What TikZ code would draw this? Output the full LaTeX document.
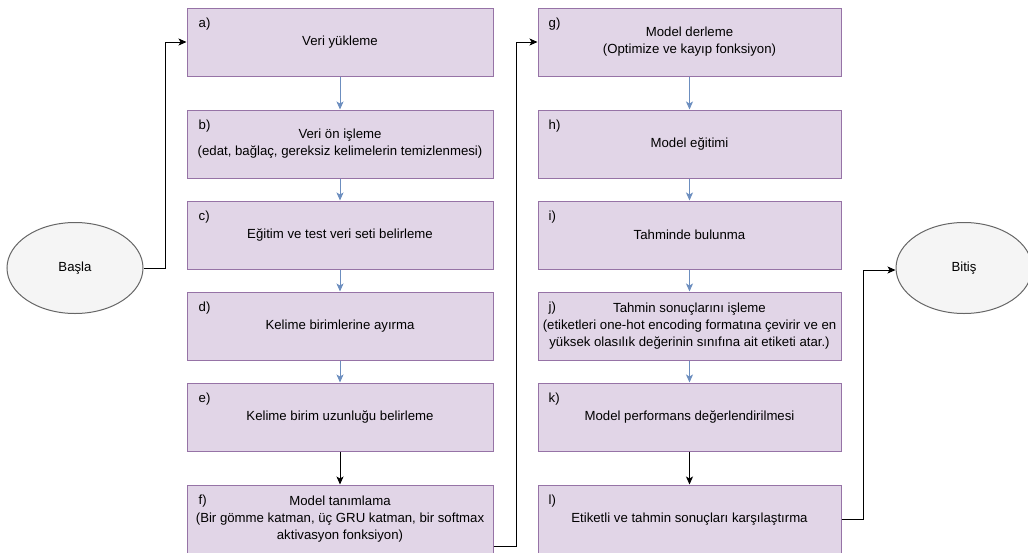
\documentclass[tikz,border=0pt]{standalone}
\usepackage{fontspec}
\setmainfont{Liberation Sans}
\usetikzlibrary{arrows.meta,calc,shapes.geometric}
\definecolor{boxfill}{HTML}{E1D5E7}
\definecolor{boxline}{HTML}{9673A6}
\definecolor{ellfill}{HTML}{F5F5F5}
\definecolor{ellline}{HTML}{666666}
\definecolor{blueline}{HTML}{6C8EBF}
\begin{document}
\begin{tikzpicture}[x=1pt,y=-1pt,
  txt/.style={font=\fontsize{13.2}{17}\selectfont},
  stepbox/.style={draw=boxline, fill=boxfill, line width=1pt, minimum height=68pt, align=center, inner sep=0pt, txt},
  lcol/.style={stepbox, minimum width=306pt},
  rcol/.style={stepbox, minimum width=303pt},
  lbl/.style={anchor=west, inner sep=0pt, txt},
  term/.style={ellipse, draw=ellline, fill=ellfill, line width=1pt, minimum width=136pt, minimum height=91pt, inner sep=0pt, txt},
  bluearr/.style={draw=blueline, line width=1pt, -{Stealth[length=8pt,width=7pt,inset=2pt]}, fill=blueline},
  blkarr/.style={draw=black, line width=1pt, -{Stealth[length=8pt,width=7pt,inset=2pt]}}
]
\useasboundingbox (0,0) rectangle (1028,552);
\begin{scope}
\clip (0,0) rectangle (1028,552);
% terminals
\node[term] (s) at (75,268) {Başla};
\node[term] (t) at (964,268) {Bitiş};
% left column
\node[lcol] (a) at (340,42) {Veri yükleme};
\node[lcol] (b) at (340,144) {Veri ön işleme\\(edat, bağlaç, gereksiz kelimelerin temizlenmesi)};
\node[lcol] (c) at (340,235) {Eğitim ve test veri seti belirleme};
\node[lcol] (d) at (340,326) {Kelime birimlerine ayırma};
\node[lcol] (e) at (340,417) {Kelime birim uzunluğu belirleme};
\node[lcol] (f) at (340,519) {Model tanımlama\\(Bir gömme katman, üç GRU katman, bir softmax\\aktivasyon fonksiyon)};
% right column
\node[rcol] (g) at (689.5,42) {Model derleme\\(Optimize ve kayıp fonksiyon)};
\node[rcol] (h) at (689.5,144) {Model eğitimi};
\node[rcol] (i) at (689.5,235) {Tahminde bulunma};
\node[rcol] (j) at (689.5,326) {Tahmin sonuçlarını işleme\\(etiketleri one-hot encoding formatına çevirir ve en\\yüksek olasılık değerinin sınıfına ait etiketi atar.)};
\node[rcol] (k) at (689.5,417) {Model performans değerlendirilmesi};
\node[rcol] (l) at (689.5,519) {Etiketli ve tahmin sonuçları karşılaştırma};
% step labels
\foreach \n in {a,b,c,d,e,f}{\node[lbl] (lab\n) at ($(\n.north west)+(12,17)$) {\n)};}
\foreach \n in {g,h,i,j,k,l}{\node[lbl] (lab\n) at ($(\n.north west)+(11,17)$) {\n)};}
% connectors
\draw[bluearr] (a) -- (b);
\draw[bluearr] (b) -- (c);
\draw[bluearr] (c) -- (d);
\draw[bluearr] (d) -- (e);
\draw[blkarr] (e) -- (f);
\draw[bluearr] (g) -- (h);
\draw[bluearr] (h) -- (i);
\draw[bluearr] (i) -- (j);
\draw[bluearr] (j) -- (k);
\draw[blkarr] (k) -- (l);
\draw[blkarr] (s.east) -- ++(22,0) |- (a.west);
\draw[blkarr] ($(f.east)+(0,27)$) -- ++(23,0) |- (g.west);
\draw[blkarr] (l.east) -- ++(22,0) |- ($(t.west)+(0,2)$);
\end{scope}
\end{tikzpicture}
\end{document}
